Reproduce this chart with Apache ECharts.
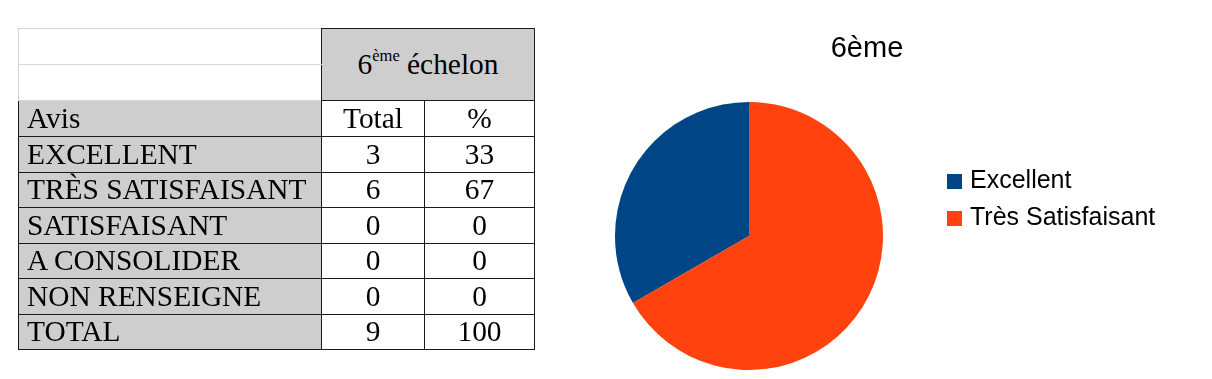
<!DOCTYPE html>
<html>
<head>
<meta charset="utf-8">
<script src="https://cdn.jsdelivr.net/npm/echarts@6/dist/echarts.min.js"></script>
<style>
html,body{margin:0;padding:0;background:#fff;}
#chart{position:absolute;left:0;top:0;width:1212px;height:379px;}
#tbl{position:absolute;left:18px;top:28px;border-collapse:collapse;table-layout:fixed;
  font-family:"Liberation Serif",serif;font-size:29.4px;color:#000;}
#tbl td{padding:0;line-height:1;white-space:nowrap;overflow:hidden;}
#tbl td.lbl{background:#cfcece;text-align:left;padding-left:8px;border:1px solid #1a1a1a;}
#tbl td.num{text-align:center;border:1px solid #1a1a1a;}
#tbl td.blank{border:1px solid #d4d4d4;border-right:1px solid #1a1a1a;}
#tbl td.head{background:#cfcece;text-align:center;border:1px solid #1a1a1a;}
sup{font-size:16.5px;vertical-align:top;position:relative;top:-2px;}
</style>
</head>
<body>
<div id="chart"></div>
<table id="tbl"></table>
<script>
// ---- data ----
const tableHeader = "6<sup>ème</sup> échelon";
const colHeaders = ["Avis", "Total", "%"];
const rowLabels = ["EXCELLENT", "TRÈS SATISFAISANT", "SATISFAISANT", "A CONSOLIDER", "NON RENSEIGNE", "TOTAL"];
const rowTotals = [3, 6, 0, 0, 0, 9];
const rowPercents = [33, 67, 0, 0, 0, 100];

const chartTitle = "6ème";
const pieCategories = ["Excellent", "Très Satisfaisant"];
const pieValues = [3, 6];
const pieColors = ["#004586", "#ff420e"];

// ---- table ----
const tbl = document.getElementById('tbl');
const colW = [303, 103, 110];
const rowH = [36, 36, 36, 36, 35, 36, 35, 36, 35];
let html = '<colgroup>' + colW.map(w => '<col style="width:' + w + 'px">').join('') + '</colgroup>';
html += '<tr style="height:' + rowH[0] + 'px"><td class="blank"></td><td class="head" colspan="2" rowspan="2">' + tableHeader + '</td></tr>';
html += '<tr style="height:' + rowH[1] + 'px"><td class="blank"></td></tr>';
html += '<tr style="height:' + rowH[2] + 'px"><td class="lbl">' + colHeaders[0] + '</td><td class="num">' + colHeaders[1] + '</td><td class="num">' + colHeaders[2] + '</td></tr>';
rowLabels.forEach((l, i) => {
  html += '<tr style="height:' + rowH[3 + i] + 'px"><td class="lbl">' + l + '</td><td class="num">' + rowTotals[i] + '</td><td class="num">' + rowPercents[i] + '</td></tr>';
});
tbl.innerHTML = html;

// ---- chart ----
const chart = echarts.init(document.getElementById('chart'));
chart.setOption({
  animation: false,
  title: {
    text: chartTitle,
    left: 862, top: 29,
    textAlign: 'center',
    textStyle: {fontFamily: 'Liberation Sans', fontSize: 29, fontWeight: 'normal', color: '#000'}
  },
  legend: {
    orient: 'vertical',
    left: 942, top: 164,
    icon: 'rect',
    itemWidth: 15, itemHeight: 15, itemGap: 12,
    textStyle: {fontFamily: 'Liberation Sans', fontSize: 25, color: '#000', padding: [0,0,0,3]},
    data: pieCategories
  },
  series: [{
    type: 'pie',
    center: [749, 236],
    radius: 134,
    startAngle: 90,
    clockwise: false,
    label: {show: false},
    labelLine: {show: false},
    itemStyle: {borderWidth: 0},
    emphasis: {disabled: true},
    data: pieCategories.map((c, i) => ({name: c, value: pieValues[i], itemStyle: {color: pieColors[i]}}))
  }]
});
</script>
</body>
</html>
